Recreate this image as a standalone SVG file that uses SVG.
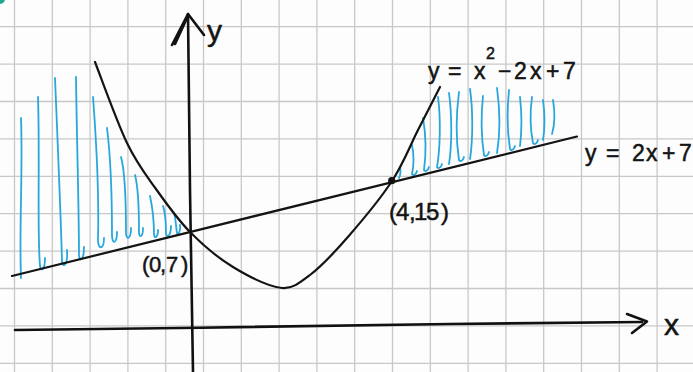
<svg xmlns="http://www.w3.org/2000/svg" width="693" height="372" viewBox="0 0 693 372">
<style>
.grid line{stroke:#c8c8c8;stroke-width:1.3}
.ink{fill:none;stroke:#141414;stroke-width:2.2;stroke-linecap:round;stroke-linejoin:round}
.axis{fill:none;stroke:#111;stroke-width:2.6;stroke-linecap:round;stroke-linejoin:round}
.hatch path{fill:none;stroke:#27a8dc;stroke-width:1.8;stroke-linecap:round;stroke-linejoin:round}
.lbl{font-family:"Liberation Sans","DejaVu Sans",sans-serif;fill:#141414;stroke:#141414;stroke-width:0.5}
</style>
<rect width="693" height="372" fill="#fdfdfd"/>
<circle cx="0" cy="-1" r="5" fill="#1ea98c"/>
<g class="grid" id="grid">
<line x1="14.5" y1="0" x2="14.5" y2="372"/><line x1="52.3" y1="0" x2="52.3" y2="372"/><line x1="90.1" y1="0" x2="90.1" y2="372"/><line x1="127.9" y1="0" x2="127.9" y2="372"/><line x1="165.7" y1="0" x2="165.7" y2="372"/><line x1="203.5" y1="0" x2="203.5" y2="372"/><line x1="241.3" y1="0" x2="241.3" y2="372"/><line x1="279.1" y1="0" x2="279.1" y2="372"/><line x1="316.9" y1="0" x2="316.9" y2="372"/><line x1="354.7" y1="0" x2="354.7" y2="372"/><line x1="392.5" y1="0" x2="392.5" y2="372"/><line x1="430.3" y1="0" x2="430.3" y2="372"/><line x1="468.1" y1="0" x2="468.1" y2="372"/><line x1="505.9" y1="0" x2="505.9" y2="372"/><line x1="543.7" y1="0" x2="543.7" y2="372"/><line x1="581.5" y1="0" x2="581.5" y2="372"/><line x1="619.3" y1="0" x2="619.3" y2="372"/><line x1="657.1" y1="0" x2="657.1" y2="372"/>
<line x1="0" y1="26.7" x2="693" y2="26.7"/><line x1="0" y1="64.1" x2="693" y2="64.1"/><line x1="0" y1="101.5" x2="693" y2="101.5"/><line x1="0" y1="138.9" x2="693" y2="138.9"/><line x1="0" y1="176.3" x2="693" y2="176.3"/><line x1="0" y1="213.7" x2="693" y2="213.7"/><line x1="0" y1="251.1" x2="693" y2="251.1"/><line x1="0" y1="288.5" x2="693" y2="288.5"/><line x1="0" y1="325.9" x2="693" y2="325.9"/><line x1="0" y1="363.3" x2="693" y2="363.3"/>
</g>
<g class="hatch" id="hatch-left">
<path d="M21,118 C23,170 19,230 21,278"/>
<path d="M38,97 C40,160 37,230 40,266 C41,272 45,270 45,258"/>
<path d="M55,78 C58,150 61,220 62,262 C63,268 68,266 67,250"/>
<path d="M76,77 C77,150 79,210 79,256 C80,262 84,260 84,247"/>
<path d="M93,97 C97,150 99,200 98,240 C98,250 104,250 104,238"/>
<path d="M107,128 C111,160 112,200 112,235 C112,245 117,244 117,232"/>
<path d="M121,157 C126,175 126,210 126,233 C126,240 131,240 131,228"/>
<path d="M135,175 C139,190 139,215 139,232 C139,238 143,238 143,228"/>
<path d="M150,196 C153,210 154,224 154,234 C154,239 158,238 158,230"/>
<path d="M163,206 C166,215 166,228 166,234 C167,238 171,236 171,226"/>
<path d="M174,213 C176,220 176,228 177,233 C178,235 181,232 180,225"/>
</g>
<g class="hatch" id="hatch-right">
<path d="M400,167 C401,172 400,176 399,178"/>
<path d="M412,145 C414,155 414,165 412,174 C413,176 416,175 417,171"/>
<path d="M423,118 C426,135 426,155 424,170 C425,172 428,171 429,167"/>
<path d="M438,97 C441,120 440,150 437,167 C438,169 441,168 442,164"/>
<path d="M449,93 C452,115 452,145 449,164"/>
<path d="M459,92 C456,115 456,140 459,160 C460,162 463,161 464,157"/>
<path d="M470,89 C473,110 473,140 470,159"/>
<path d="M483,96 C481,115 481,135 484,155 C485,157 488,156 489,152"/>
<path d="M497,88 C500,110 500,135 497,153"/>
<path d="M509,90 C507,110 507,130 510,149 C511,151 514,150 515,146"/>
<path d="M520,97 C522,115 522,130 520,146"/>
<path d="M532,97 C530,112 530,128 533,143 C534,145 537,144 538,140"/>
<path d="M543,100 C545,115 545,128 543,140"/>
<path d="M553,100 C555,112 555,124 552,134"/>
</g>
<g id="connectors">
<g id="y-axis"><path class="axis" d="M188,14 L190,190 L193,372"/><path class="axis" d="M172,45 L188,14 L204,35 M175,44 L187,18"/></g>
<g id="x-axis"><path class="axis" d="M15,330 L200,327.7 L450,324 L642,322"/><path class="axis" d="M627,314 L647,321.5 L632,333"/></g>
<path id="line-2x7" class="ink" d="M12,276 L577,136.5"/>
<path id="parabola" class="ink" d="M95,62 C100.3,75.5 116.8,121.8 127,143 C137.2,164.2 145.5,174.2 156,189 C166.5,203.8 177.2,219 190,232 C202.8,245 217.7,257.7 233,267 C248.3,276.3 269.2,286.7 282,288 C292,289 299.2,283.3 310,275 C320.8,266.7 333.3,253.7 347,238 C360.7,222.3 380.2,199 392,181 C403.8,163 410,145.7 418,130 C426,114.3 436.3,94.2 440,87"/>
</g>
<g id="point-0-7"><text class="lbl" font-size="22" x="142 149 160 166 181" y="272">(0,7)</text></g>
<g id="point-4-15"><circle cx="391.7" cy="180.7" r="3.6" fill="#111"/><text class="lbl" font-size="24" x="389 396 409 414 426 441" y="220">(4,15)</text></g>
<g id="label-parabola"><text class="lbl" font-size="23"><tspan x="428" y="79">y</tspan><tspan x="448">=</tspan><tspan x="474">x</tspan><tspan x="486" y="59" font-size="16">2</tspan><tspan x="498 514 530 546 563" y="79">−2x+7</tspan></text></g>
<g id="label-line"><text class="lbl" font-size="23" x="585 606 632 646 662 679" y="161">y=2x+7</text></g>
<g id="label-y"><text class="lbl" font-size="30" x="207" y="41">y</text></g>
<g id="label-x"><text class="lbl" font-size="30" x="664" y="335">x</text></g>
</svg>
